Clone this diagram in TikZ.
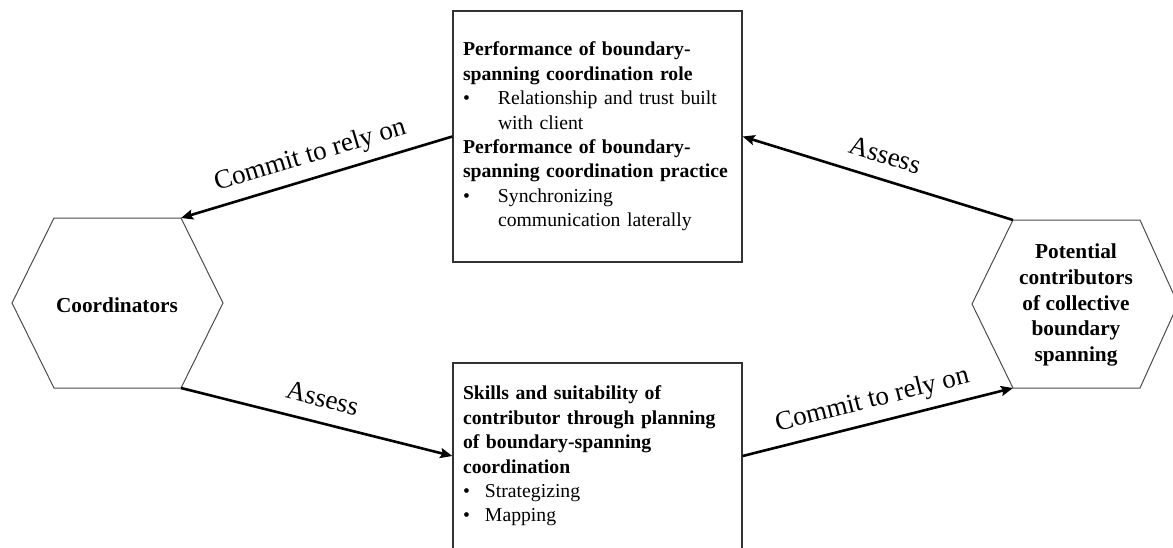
\documentclass[tikz,border=0pt]{standalone}
\usepackage{fontspec}
\setmainfont{Liberation Serif}
\usetikzlibrary{arrows.meta}
\newcommand{\bitem}[2]{\par\hangindent=#1\hangafter=1\noindent\makebox[#1][l]{\textbullet}#2\par}

\begin{document}
\begin{tikzpicture}[x=1pt, y=-1pt,
  box/.style={draw=black!80, line width=1.3pt, inner xsep=10pt, inner ysep=0pt, align=left,
    font=\fontsize{19.7}{24.4}\selectfont},
  hexline/.style={draw=black!70, line width=1pt},
  hextext/.style={font=\bfseries\fontsize{21.3}{25.7}\selectfont, align=center},
  arr/.style={line width=2.6pt, -{Stealth[length=12pt, width=10pt, inset=2pt]}},
  lbl/.style={sloped, above=5pt, text depth=6pt, font=\fontsize{27}{30}\selectfont}]
\useasboundingbox (0,0) rectangle (1173,547);

\coordinate (co-w) at (12,303);
\coordinate (co-nw) at (54,218);
\coordinate (co-ne) at (181,218);
\coordinate (co-e) at (223,303);
\coordinate (co-se) at (181,388);
\coordinate (co-sw) at (54,388);
\draw[hexline] (co-w) -- (co-nw) -- (co-ne) -- (co-e) -- (co-se) -- (co-sw) -- cycle;
\node[hextext] (coord) at (117,305) {Coordinators};

\coordinate (pc-w) at (972,304);
\coordinate (pc-nw) at (1013,220);
\coordinate (pc-ne) at (1140,220);
\coordinate (pc-e) at (1178,304);
\coordinate (pc-se) at (1140,388);
\coordinate (pc-sw) at (1013,388);
\draw[hexline] (pc-w) -- (pc-nw) -- (pc-ne) -- (pc-e) -- (pc-se) -- (pc-sw) -- cycle;
\node[hextext] (contrib) at (1076,305) {Potential\\contributors\\of collective\\boundary\\spanning};

\node[box, minimum width=289pt, minimum height=251pt, text width=269pt] (perf) at (597.5,136.5) {%
  \textbf{Performance of boundary-\newline spanning coordination role}
  \bitem{35pt}{Relationship and trust built\newline with client}
  \noindent\textbf{Performance of boundary-\newline spanning coordination practice}
  \bitem{35pt}{Synchronizing\newline communication laterally}};

\node[box, minimum width=289pt, minimum height=186pt, text width=269pt] (skills) at (597.5,456) {%
  \textbf{Skills and suitability of\newline contributor through planning\newline of boundary-spanning\newline coordination}
  \bitem{22pt}{Strategizing}
  \bitem{22pt}{Mapping}};

\draw[arr] (perf.west) -- node[lbl] {Commit to rely on} (co-ne);
\draw[arr] (pc-nw) -- node[lbl] {Assess} (perf.east);
\draw[arr] (co-se) -- node[lbl] {Assess} (skills.west);
\draw[arr] (skills.east) -- node[lbl] {Commit to rely on} (pc-sw);
\end{tikzpicture}
\end{document}
